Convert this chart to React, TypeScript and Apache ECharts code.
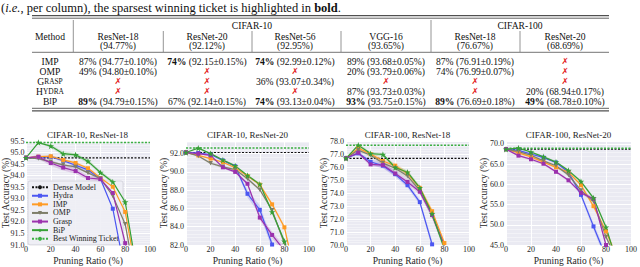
import React, { useEffect, useRef } from 'react';
import * as echarts from 'echarts';

const FONT = "'Liberation Serif', 'Times New Roman', serif";

// ---------- table data ----------
const caption = '({i|i.e.}, per column), the sparsest winning ticket is highlighted in {b|bold}.';
const datasetHeaders = ['CIFAR-10', 'CIFAR-100'];
const modelHeaders = ['ResNet-18', 'ResNet-20', 'ResNet-56', 'VGG-16', 'ResNet-18', 'ResNet-20'];
const denseHeaders = ['(94.77%)', '(92.12%)', '(92.95%)', '(93.65%)', '(76.67%)', '(68.69%)'];
const methodLabels = ['{c|IMP}', '{c|OMP}', '{c|G}{s|RASP}', '{c|H}{s|YDRA}', '{c|B}{s|I}{c|P}'];

const impRatio = [87, 74, 74, 89, 87, null];
const impAcc = ['94.77±0.10', '92.15±0.15', '92.99±0.12', '93.68±0.05', '76.91±0.19', null];
const ompRatio = [49, null, null, 20, 74, null];
const ompAcc = ['94.80±0.10', null, null, '93.79±0.06', '76.99±0.07', null];
const graspRatio = [null, null, 36, null, null, null];
const graspAcc = [null, null, '93.07±0.34', null, null, null];
const hydraRatio = [null, null, null, 87, null, 20];
const hydraAcc = [null, null, null, '93.73±0.03', null, '68.94±0.17'];
const bipRatio = [89, 67, 74, 93, 89, 49];
const bipAcc = ['94.79±0.15', '92.14±0.15', '93.13±0.04', '93.75±0.15', '76.69±0.18', '68.78±0.10'];

// ---------- chart data ----------
const ratios = [0, 10, 20, 30, 40, 50, 60, 70, 80, 90];
const chartTitles = ['CIFAR-10, ResNet-18', 'CIFAR-10, ResNet-20', 'CIFAR-100, ResNet-18', 'CIFAR-100, ResNet-20'];
const yMins = [91, 82, 70, 45];
const yMaxs = [95.5, 93.38, 78, 70.72];
const yIntervals = [0.5, 2, 1, 5];
const denseAcc = [94.77, 92.12, 76.67, 68.69];
const bestAcc = [95.43, 92.62, 77.68, 68.9];

const methodNames = ['Hydra', 'IMP', 'OMP', 'Grasp', 'BiP'];

// CIFAR-10, ResNet-18
const hydra1 = [94.77, 94.8, 94.82, 94.65, 94.45, 94.25, 93.87, 92.57, 89.8];
const imp1 = [94.77, 94.82, 94.84, 94.68, 94.55, 94.32, 93.9, 93.52, 92.43, 89.5];
const omp1 = [94.77, 94.74, 94.6, 94.47, 94.38, 94.12, 93.88, 93.12, 91.9, 89.0];
const grasp1 = [94.77, 94.82, 94.55, 94.35, 94.2, 93.9, 93.85, 93.25, 91.08, 88.0];
const bip1 = [94.77, 95.43, 95.28, 94.95, 94.9, 94.62, 94.14, 93.73, 92.86, 89.7];
// CIFAR-10, ResNet-20
const hydra2 = [92.12, 92.07, 91.9, 91.25, 90.62, 87.6, 85.85, 82.05, 78.0];
const imp2 = [92.12, 91.8, 91.45, 91.05, 90.45, 89.55, 88.6, 86.45, 83.94, 78.0];
const omp2 = [92.12, 91.75, 90.95, 90.55, 90.25, 89.25, 88.05, 85.8, 82.2, 77.5];
const grasp2 = [92.12, 92.0, 91.8, 90.5, 90.0, 88.7, 85.0, 83.1, 81.4];
const bip2 = [92.12, 92.6, 92.0, 91.3, 90.66, 89.6, 88.65, 85.6, 82.4, 78.5];
// CIFAR-100, ResNet-18
const hydra3 = [76.67, 77.05, 76.4, 76.1, 75.45, 74.6, 73.3, 70.05];
const imp3 = [76.67, 77.45, 77.0, 76.46, 76.1, 75.5, 74.4, 72.6, 70.15];
const omp3 = [76.67, 77.3, 76.9, 76.3, 75.9, 75.3, 74.2, 72.3, 69.95];
const grasp3 = [76.67, 77.1, 76.2, 76.15, 75.5, 74.85, 74.1, 72.3, 69.9];
const bip3 = [76.67, 77.68, 77.03, 76.96, 75.96, 75.6, 74.4, 72.4, 69.7];
// CIFAR-100, ResNet-20
const hydra4 = [68.69, 68.4, 67.5, 66.6, 65.4, 63.0, 57.4, 49.6, 42.0];
const imp4 = [68.69, 67.8, 66.8, 65.5, 64.2, 63.0, 59.8, 54.6, 48.4, 41.0];
const omp4 = [68.69, 68.1, 67.2, 65.8, 64.6, 62.3, 58.5, 55.8, 47.0, 40.5];
const grasp4 = [68.69, 67.1, 66.2, 65.1, 63.1, 61.0, 57.9, 56.4, 45.0, 38.0];
const bip4 = [68.69, 68.96, 68.0, 66.8, 65.5, 63.4, 60.7, 56.6, 49.4, 39.5];

// standard deviations (shaded bands)
const hydraStd1 = [0, 0.05, 0.06, 0.06, 0.07, 0.08, 0.08, 0.1, 0.1];
const impStd1 = [0, 0.04, 0.05, 0.05, 0.06, 0.06, 0.07, 0.08, 0.1, 0.1];
const ompStd1 = [0, 0.04, 0.05, 0.05, 0.06, 0.06, 0.07, 0.08, 0.1, 0.1];
const graspStd1 = [0, 0.1, 0.12, 0.13, 0.12, 0.1, 0.1, 0.12, 0.15, 0.15];
const bipStd1 = [0, 0.04, 0.06, 0.1, 0.08, 0.08, 0.07, 0.08, 0.1, 0.1];
const hydraStd2 = [0, 0.05, 0.08, 0.1, 0.15, 0.4, 0.5, 0.5, 0.5];
const impStd2 = [0, 0.06, 0.08, 0.1, 0.12, 0.12, 0.15, 0.2, 0.25, 0.3];
const ompStd2 = [0, 0.08, 0.15, 0.15, 0.12, 0.15, 0.15, 0.2, 0.25, 0.3];
const graspStd2 = [0, 0.08, 0.1, 0.12, 0.15, 0.2, 0.3, 0.35, 0.4];
const bipStd2 = [0, 0.06, 0.08, 0.1, 0.12, 0.12, 0.15, 0.2, 0.25, 0.3];
const hydraStd3 = [0, 0.15, 0.2, 0.2, 0.2, 0.2, 0.2, 0.3];
const impStd3 = [0, 0.12, 0.15, 0.2, 0.2, 0.15, 0.15, 0.2, 0.2];
const ompStd3 = [0, 0.12, 0.15, 0.15, 0.2, 0.2, 0.25, 0.25, 0.25];
const graspStd3 = [0, 0.12, 0.15, 0.2, 0.2, 0.2, 0.2, 0.25, 0.25];
const bipStd3 = [0, 0.1, 0.12, 0.12, 0.15, 0.15, 0.15, 0.2, 0.2];
const hydraStd4 = [0, 0.3, 0.3, 0.3, 0.3, 0.4, 0.6, 0.8, 1.0];
const impStd4 = [0, 0.3, 0.3, 0.3, 0.3, 0.35, 0.4, 0.5, 0.6, 0.8];
const ompStd4 = [0, 0.3, 0.3, 0.3, 0.3, 0.35, 0.4, 0.5, 0.6, 0.8];
const graspStd4 = [0, 0.3, 0.3, 0.3, 0.3, 0.35, 0.4, 0.5, 0.6, 0.8];
const bipStd4 = [0, 0.2, 0.2, 0.25, 0.25, 0.3, 0.3, 0.4, 0.5, 0.6];

// ---------- styles / layout ----------
const methodColors = ['#4b56f2', '#ff9b24', '#7e7e6a', '#9b31ad', '#36a036'];
const STAR = 'path://M50,0L61.2,34.5L97.6,34.5L68.2,55.9L79.4,90.5L50,69.1L20.6,90.5L31.8,55.9L2.4,34.5L38.8,34.5Z';
const methodSymbols = ['rect', 'rect', 'triangle', 'rect', STAR];
const methodSymbolRotate = [0, 0, 180, 0, 0];
const methodSymbolSize = [4, 4, 4.5, 4, 6.5];
const denseColor = '#111111';
const bestColor = '#3cb043';

const GRID_LEFT = [25, 186, 346, 506];
const GRID_W = [125, 123, 123, 125];
const GRID_TOP = 141;
const GRID_H = 107;
const Y_NAME_GAP = [15, 17, 17, 17];

const colCenters = [50, 118, 207, 295, 386, 475, 565];
const rowY = [61, 71, 81, 91, 101];

function txt(x: number, y: number, text: string, extra: any = {}) {
  return {
    type: 'text',
    x,
    y,
    silent: true,
    style: {
      text,
      fontFamily: FONT,
      fontSize: 9.6,
      fill: '#111',
      align: 'center',
      verticalAlign: 'middle',
      textAlign: 'center',
      textVerticalAlign: 'middle',
      ...extra,
    },
  };
}

const richTable = {
  n: { fontFamily: FONT, fontSize: 9.6, fill: '#111' },
  b: { fontFamily: FONT, fontSize: 9.6, fill: '#111', fontWeight: 'bold' },
  x: { fontFamily: "'DejaVu Sans', sans-serif", fontSize: 8.5, fill: '#e3201c' },
  c: { fontFamily: FONT, fontSize: 9.6, fill: '#111' },
  s: { fontFamily: FONT, fontSize: 7.4, fill: '#111' },
};

function hline(x1: number, x2: number, y: number, w: number, color = '#505050') {
  return { type: 'line', silent: true, shape: { x1, y1: y, x2, y2: y }, style: { stroke: color, lineWidth: w } };
}
function vline(x: number, y1: number, y2: number) {
  return { type: 'line', silent: true, shape: { x1: x, y1, x2: x, y2 }, style: { stroke: '#7a7a7a', lineWidth: 0.8 } };
}

function buildTable(): any[] {
  const els: any[] = [];
  els.push(
    txt(1, 7.5, caption, {
      align: 'left',
      textAlign: 'left',
      fontSize: 12.5,
      rich: {
        i: { fontFamily: FONT, fontSize: 12.5, fontStyle: 'italic', fill: '#111' },
        b: { fontFamily: FONT, fontSize: 12.5, fontWeight: 'bold', fill: '#111' },
      },
    })
  );
  const L = 32;
  const R = 609;
  els.push(hline(L, R, 15.6, 1.4), hline(L, R, 18.2, 0.9));
  els.push(hline(L, R, 52.3, 0.8));
  els.push(hline(L, R, 108.3, 0.9), hline(L, R, 110.9, 1.4));
  els.push(vline(73.3, 20, 52), vline(163.3, 31, 52), vline(252, 31, 52), vline(341, 31, 52), vline(431, 20, 52), vline(520, 31, 52));

  els.push(txt(colCenters[0], 36, 'Method'));
  els.push(txt(252, 25, datasetHeaders[0]));
  els.push(txt(520, 25, datasetHeaders[1]));
  modelHeaders.forEach((h, i) => {
    els.push(txt(colCenters[i + 1], 36, h));
    els.push(txt(colCenters[i + 1], 45.5, denseHeaders[i]));
  });

  const ratiosT = [impRatio, ompRatio, graspRatio, hydraRatio, bipRatio];
  const accsT = [impAcc, ompAcc, graspAcc, hydraAcc, bipAcc];
  const colMax = modelHeaders.map((_, j) => Math.max(...ratiosT.map((r) => (r[j] == null ? -1 : (r[j] as number)))));
  methodLabels.forEach((lab, r) => {
    els.push(txt(colCenters[0], rowY[r], lab, { rich: richTable }));
    modelHeaders.forEach((_, j) => {
      const ratio = ratiosT[r][j];
      const acc = accsT[r][j];
      let t: string;
      if (ratio == null) {
        t = '{x|✗}';
      } else {
        const tag = ratio === colMax[j] ? 'b' : 'n';
        t = `{${tag}|${ratio}%}{n| (${acc}%)}`;
      }
      els.push(txt(colCenters[j + 1], rowY[r], t, { rich: richTable }));
    });
  });
  return els;
}

function buildOption(): any {
  const accAll = [
    [hydra1, imp1, omp1, grasp1, bip1],
    [hydra2, imp2, omp2, grasp2, bip2],
    [hydra3, imp3, omp3, grasp3, bip3],
    [hydra4, imp4, omp4, grasp4, bip4],
  ];
  const stdAll = [
    [hydraStd1, impStd1, ompStd1, graspStd1, bipStd1],
    [hydraStd2, impStd2, ompStd2, graspStd2, bipStd2],
    [hydraStd3, impStd3, ompStd3, graspStd3, bipStd3],
    [hydraStd4, impStd4, ompStd4, graspStd4, bipStd4],
  ];

  const grid = GRID_LEFT.map((l, i) => ({
    left: l,
    top: GRID_TOP,
    width: GRID_W[i],
    height: GRID_H,
    show: true,
    backgroundColor: '#eaeaf2',
    borderWidth: 0,
  }));

  const xAxis = GRID_LEFT.map((_, i) => ({
    type: 'value',
    gridIndex: i,
    min: 0,
    max: 100,
    interval: 20,
    axisLine: { show: false },
    axisTick: { show: false },
    axisLabel: { fontFamily: FONT, fontSize: 8, color: '#262626', margin: 0.5 },
    splitLine: { show: true, lineStyle: { color: '#ffffff', width: 1 } },
    name: 'Pruning Ratio (%)',
    nameLocation: 'middle',
    nameGap: 11,
    nameMoveOverlap: false,
    nameTextStyle: { fontFamily: FONT, fontSize: 9.5, color: '#262626' },
  }));

  const yAxis = GRID_LEFT.map((_, i) => ({
    type: 'value',
    gridIndex: i,
    min: yMins[i],
    max: yMaxs[i],
    interval: yIntervals[i],
    axisLine: { show: false },
    axisTick: { show: false },
    axisLabel: {
      fontFamily: FONT,
      fontSize: 8,
      color: '#262626',
      margin: i === 0 ? 1.5 : 2,
      formatter: (v: number) => v.toFixed(1),
      showMaxLabel: i === 1 || i === 3 ? false : true,
    },
    splitLine: { show: true, lineStyle: { color: '#ffffff', width: 1 } },
    minorTick: { show: false, splitNumber: 5 },
    minorSplitLine: { show: true, lineStyle: { color: 'rgba(255,255,255,0.75)', width: 0.5 } },
    name: 'Test Accuracy (%)',
    nameLocation: 'middle',
    nameGap: Y_NAME_GAP[i],
    nameMoveOverlap: false,
    nameTextStyle: { fontFamily: FONT, fontSize: 9.5, color: '#262626' },
  }));

  const series: any[] = [];
  for (let c = 0; c < 4; c++) {
    for (let m = 0; m < 5; m++) {
      const acc = accAll[c][m];
      const sd = stdAll[c][m];
      const segs: number[][] = [];
      for (let k = 0; k + 1 < acc.length; k++) {
        segs.push([ratios[k], acc[k] - sd[k], acc[k] + sd[k], ratios[k + 1], acc[k + 1] - sd[k + 1], acc[k + 1] + sd[k + 1]]);
      }
      const color = methodColors[m];
      series.push({
        type: 'custom',
        xAxisIndex: c,
        yAxisIndex: c,
        silent: true,
        z: 1,
        data: segs,
        encode: { x: 0, y: 1 },
        renderItem: (params: any, api: any) => {
          const a = api.coord([api.value(0), api.value(1)]);
          const b = api.coord([api.value(3), api.value(4)]);
          const d = api.coord([api.value(3), api.value(5)]);
          const e = api.coord([api.value(0), api.value(2)]);
          const cs = params.coordSys;
          return {
            type: 'polygon',
            shape: { points: [a, b, d, e] },
            style: { fill: color, opacity: 0.2 },
            clipPath: { type: 'rect', shape: { x: cs.x, y: cs.y, width: cs.width, height: cs.height } },
          };
        },
      });
    }
    series.push({
      type: 'line',
      name: 'Dense Model',
      xAxisIndex: c,
      yAxisIndex: c,
      data: [
        [0, denseAcc[c]],
        [100, denseAcc[c]],
      ],
      symbol: 'none',
      lineStyle: { color: denseColor, width: 1.2, type: [2, 1.5] },
      itemStyle: { color: denseColor },
      z: 3,
    });
    series.push({
      type: 'line',
      name: 'Best Winning Ticket',
      xAxisIndex: c,
      yAxisIndex: c,
      data: [
        [0, bestAcc[c]],
        [100, bestAcc[c]],
      ],
      symbol: 'none',
      lineStyle: { color: bestColor, width: 1.5, type: [2, 1.5] },
      itemStyle: { color: bestColor },
      z: 3,
    });
    for (let m = 0; m < 5; m++) {
      const acc = accAll[c][m];
      series.push({
        type: 'line',
        name: methodNames[m],
        xAxisIndex: c,
        yAxisIndex: c,
        data: acc.map((v, k) => [ratios[k], v]),
        symbol: methodSymbols[m],
        symbolSize: methodSymbolSize[m],
        symbolRotate: methodSymbolRotate[m],
        showAllSymbol: true,
        lineStyle: { color: methodColors[m], width: 1.2 },
        itemStyle: { color: methodColors[m] },
        z: 4,
      });
    }
  }

  const titles = chartTitles.map((t, i) => txt(GRID_LEFT[i] + GRID_W[i] / 2, 134.5, t, { fontSize: 9, fill: '#222' }));

  return {
    animation: false,
    textStyle: { fontFamily: FONT },
    grid,
    xAxis,
    yAxis,
    legend: {
      data: ['Dense Model', 'Hydra', 'IMP', 'OMP', 'Grasp', 'BiP', 'Best Winning Ticket'],
      orient: 'vertical',
      left: 28,
      top: 181,
      itemWidth: 16,
      itemHeight: 5,
      itemGap: 0.3,
      padding: [2, 4, 2, 3],
      backgroundColor: 'rgba(238,238,245,0.88)',
      borderColor: '#cfcfd8',
      borderWidth: 0.8,
      borderRadius: 2,
      textStyle: { fontFamily: FONT, fontSize: 8, color: '#222', lineHeight: 8.3 },
      selectedMode: false,
    },
    series,
    graphic: [...buildTable(), ...titles],
  };
}

export default function App() {
  const ref = useRef<HTMLDivElement>(null);
  useEffect(() => {
    document.body.style.margin = '0';
    const chart = echarts.init(ref.current as HTMLDivElement, null, { renderer: 'svg' });
    chart.setOption(buildOption());
    return () => chart.dispose();
  }, []);
  return <div ref={ref} style={{ width: 640, height: 267 }} />;
}
